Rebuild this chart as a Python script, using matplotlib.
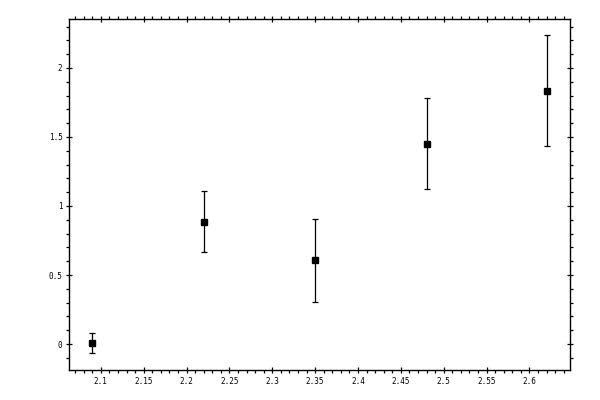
import numpy as np
import matplotlib.pyplot as plt
from matplotlib.ticker import MultipleLocator, FuncFormatter

# data
x_vals = [2.09, 2.22, 2.35, 2.48, 2.62]
y_vals = [0.005, 0.885, 0.607, 1.450, 1.835]
y_err = [0.073, 0.220, 0.302, 0.330, 0.400]

plt.rcParams['font.family'] = ['DejaVu Sans Mono']

fig = plt.figure(figsize=(6, 4), dpi=100)
ax = fig.add_axes([0.1158, 0.075, 0.8342, 0.877])

ax.errorbar(x_vals, y_vals, yerr=y_err, fmt='s', color='black',
            markersize=5, elinewidth=0.9, capsize=2.5, capthick=0.9)

ax.set_xlim(2.0634, 2.6473)
ax.set_ylim(-0.188, 2.353)

ax.xaxis.set_major_locator(MultipleLocator(0.05))
ax.xaxis.set_minor_locator(MultipleLocator(0.01))
ax.yaxis.set_major_locator(MultipleLocator(0.5))
ax.yaxis.set_minor_locator(MultipleLocator(0.1))

fmt = FuncFormatter(lambda v, p: ('%.2f' % v).rstrip('0').rstrip('.') if abs(v) > 1e-9 else '0')
ax.xaxis.set_major_formatter(fmt)
ax.yaxis.set_major_formatter(fmt)

for s in ax.spines.values():
    s.set_linewidth(1.0)

ax.tick_params(which='major', direction='inout', length=5, width=0.9,
               top=True, right=True, labelsize=5.5, pad=2.5)
ax.tick_params(which='minor', direction='out', length=2.5, width=0.9,
               top=True, right=True)

fig.savefig('out.png', dpi=100)
